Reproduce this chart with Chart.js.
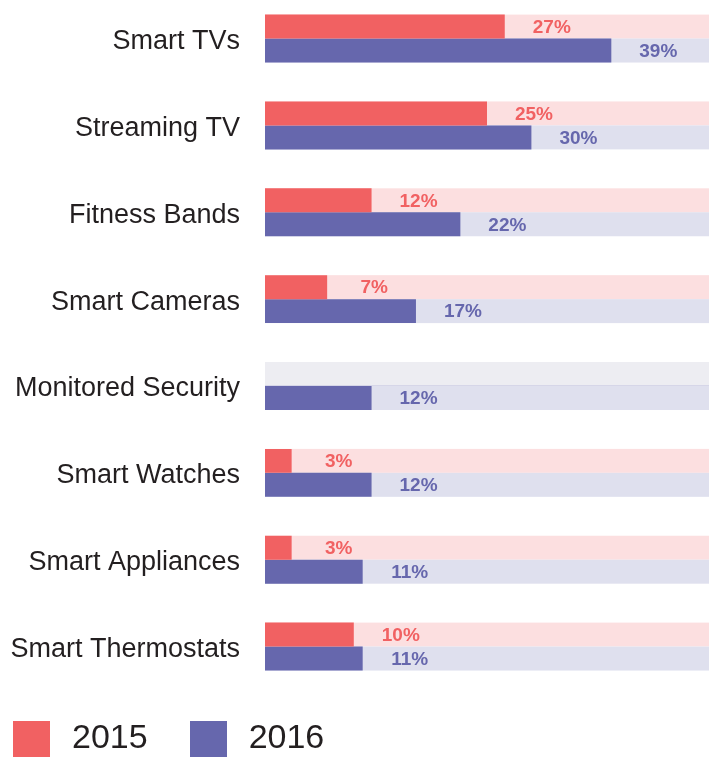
<!DOCTYPE html>
<html>
<head>
<meta charset="utf-8">
<script src="https://cdn.jsdelivr.net/npm/chart.js@4/dist/chart.umd.min.js"></script>
<style>
  html, body { margin: 0; padding: 0; background: #fff; overflow: hidden; }
  #wrap { width: 714px; height: 757px; overflow: hidden; }
  #devicesChart { display: block; margin-top: -5px; }
</style>
</head>
<body>
<div id="wrap"><canvas id="devicesChart" width="714" height="762"></canvas></div>
<script>
var categories = ['Smart TVs', 'Streaming TV', 'Fitness Bands', 'Smart Cameras',
    'Monitored Security', 'Smart Watches', 'Smart Appliances', 'Smart Thermostats'];
var values2015 = [27, 25, 12, 7, null, 3, 3, 10];
var values2016 = [39, 30, 22, 17, 12, 12, 11, 11];
var seriesLabels = ['2015', '2016'];

var red = '#f16162', purple = '#6667ad';
var fontFamily = '"Liberation Sans", Arial, sans-serif';

// square swatch for the legend
function swatch(color) {
    var c = document.createElement('canvas');
    c.width = 37;
    c.height = 36;
    var g = c.getContext('2d');
    g.fillStyle = color;
    g.fillRect(0, 0, 37, 36);
    return c;
}

// light track behind each bar
var trackPlugin = {
    id: 'tracks',
    beforeDatasetsDraw: function (chart) {
        var ctx = chart.ctx, area = chart.chartArea;
        var tracks = ['#fcdfe0', '#dfe0ee'];
        ctx.save();
        chart.data.datasets.forEach(function (ds, d) {
            chart.getDatasetMeta(d).data.forEach(function (bar, i) {
                var top = bar.y - bar.height / 2;
                ctx.fillStyle = ds.data[i] == null ? '#ededf2' : tracks[d];
                ctx.fillRect(area.left, top, area.right - area.left, bar.height);
                if (ds.data[i] == null) {
                    ctx.fillStyle = '#d6d6e8';
                    ctx.fillRect(area.left, top + bar.height - 1, area.right - area.left, 1);
                }
            });
        });
        ctx.restore();
    }
};

// percentage label after each bar
var valueLabels = {
    id: 'valueLabels',
    afterDatasetsDraw: function (chart) {
        var ctx = chart.ctx;
        ctx.save();
        ctx.font = 'bold 19px ' + fontFamily;
        ctx.textAlign = 'center';
        ctx.textBaseline = 'middle';
        chart.data.datasets.forEach(function (ds, d) {
            chart.getDatasetMeta(d).data.forEach(function (bar, i) {
                if (ds.data[i] == null) return;
                ctx.fillStyle = ds.backgroundColor;
                ctx.fillText(ds.data[i] + '%', bar.x + 47, bar.y + 1);
            });
        });
        ctx.restore();
    }
};

// nudge the legend up a little
var legendShift = {
    id: 'legendShift',
    afterLayout: function (chart) {
        if (chart.legend) {
            chart.legend.top -= 5;
            chart.legend.bottom -= 5;
        }
    }
};

var ctx = document.getElementById('devicesChart').getContext('2d');
var chart = new Chart(ctx, {
    type: 'bar',
    data: {
        labels: categories,
        datasets: [{
            label: seriesLabels[0],
            data: values2015,
            backgroundColor: red,
            borderWidth: 0,
            categoryPercentage: 0.552,
            barPercentage: 1.0
        }, {
            label: seriesLabels[1],
            data: values2016,
            backgroundColor: purple,
            borderWidth: 0,
            categoryPercentage: 0.552,
            barPercentage: 1.0
        }]
    },
    options: {
        indexAxis: 'y',
        responsive: false,
        animation: false,
        devicePixelRatio: 1,
        layout: { padding: { top: 0, left: -29, right: 5, bottom: -14 } },
        scales: {
            x: {
                display: false,
                min: 0,
                max: 50
            },
            y: {
                grid: {
                    display: true,
                    drawOnChartArea: false,
                    drawTicks: true,
                    tickLength: 25,
                    color: 'rgba(0,0,0,0)'
                },
                border: { display: false },
                ticks: {
                    color: '#231f20',
                    padding: 0,
                    labelOffset: 3,
                    font: { family: fontFamily, size: 27, lineHeight: 0.01 }
                },
                afterFit: function (scale) { scale.width = 294; }
            }
        },
        plugins: {
            tooltip: { enabled: false },
            legend: {
                position: 'bottom',
                align: 'start',
                labels: {
                    usePointStyle: true,
                    pointStyleWidth: 47,
                    boxHeight: 36,
                    padding: 37,
                    color: '#231f20',
                    font: { family: fontFamily, size: 34 },
                    generateLabels: function (chart) {
                        var items = Chart.defaults.plugins.legend.labels.generateLabels(chart);
                        items.forEach(function (item, i) {
                            item.pointStyle = swatch(chart.data.datasets[i].backgroundColor);
                        });
                        return items;
                    }
                }
            }
        }
    },
    plugins: [trackPlugin, valueLabels, legendShift]
});
</script>
</body>
</html>
